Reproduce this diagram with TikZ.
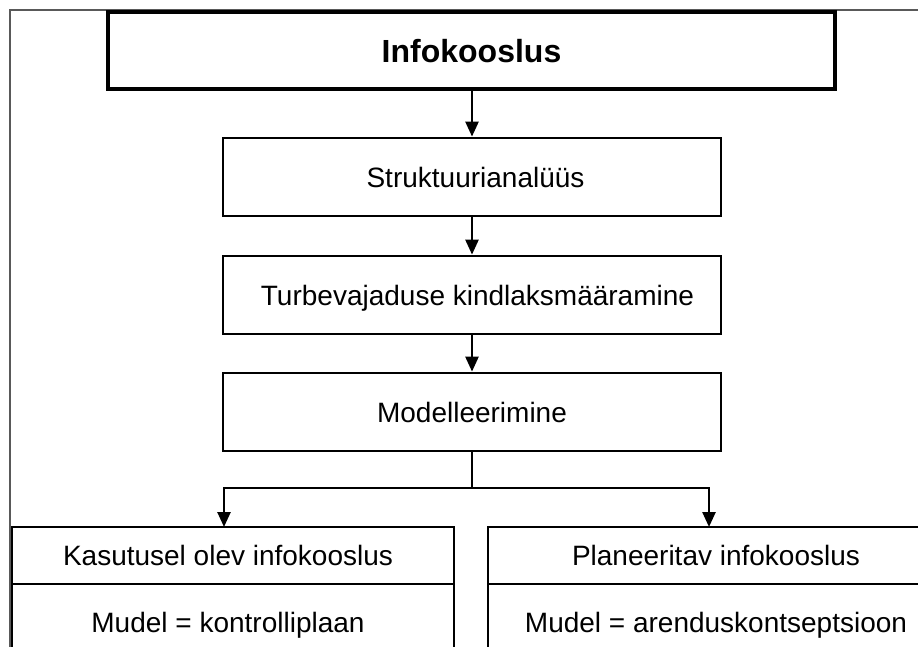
\documentclass[tikz,border=0pt]{standalone}
\usepackage{fontspec}
\setmainfont{Liberation Sans}
\usetikzlibrary{arrows.meta}
\begin{document}
\begin{tikzpicture}[x=1pt,y=-1pt,
  box/.style={draw=black, line width=2.8pt, inner sep=0pt, align=center,
    text height=20pt, text depth=0pt,
    font=\fontsize{28}{32}\selectfont},
  mainbox/.style={box, line width=3.5pt, text height=23pt,
    font=\fontsize{32}{36}\selectfont\bfseries},
  arr/.style={draw=black, line width=2.5pt,
    -{Triangle[width=13pt,length=15pt]}},
  link/.style={draw=black, line width=2.5pt},
  frame/.style={draw=black!65, line width=1.1pt}]
\useasboundingbox (0,0) rectangle (918,646);
\clip (0,0) rectangle (918,646);

% outer frame
\draw[frame] (10,680) -- (10,10) -- (940,10);

% process chain
\node[mainbox, minimum width=727pt, minimum height=77pt] (info) at (471.5,50.5) {Infokooslus};
\node[box, minimum width=498pt, minimum height=78pt] (struct) at (472,177) {\hspace{7pt}Struktuurianalüüs};
\node[box, minimum width=498pt, minimum height=78pt] (need) at (472,295) {\hspace{11pt}Turbevajaduse kindlaksmääramine};
\node[box, minimum width=498pt, minimum height=78pt] (model) at (472,412) {Modelleerimine};

% two outcome boxes, each with a header row and a model row
\node[box, minimum width=442pt, minimum height=57pt] (curhead) at (233,555.5) {Kasutusel olev infokooslus\hspace{10pt}};
\node[box, minimum width=442pt, minimum height=76pt] (curbody) at (233,622) {Mudel = kontrolliplaan\hspace{10pt}};
\node[box, minimum width=456pt, minimum height=57pt] (planhead) at (716,555.5) {Planeeritav infokooslus};
\node[box, minimum width=456pt, minimum height=76pt] (planbody) at (716,622) {Mudel = arenduskontseptsioon};

% connectors
\draw[arr] (info.south -| struct.north) -- (struct.north);
\draw[arr] (struct.south) -- (need.north);
\draw[arr] (need.south) -- (model.north);

\coordinate (split) at (472,488);
\coordinate (curin) at (224,527);
\coordinate (planin) at (709,527);
\draw[link] (model.south) -- (split);
\draw[arr] (split) -| (curin);
\draw[arr] (split) -| (planin);
\end{tikzpicture}
\end{document}
